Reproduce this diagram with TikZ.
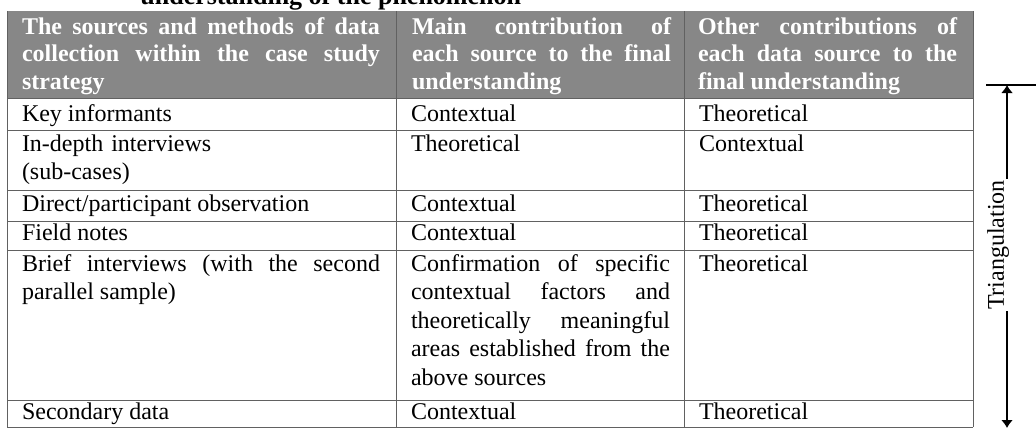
\documentclass[tikz,border=0pt]{standalone}
\usepackage{fontspec}
\setmainfont{Liberation Serif}
\usetikzlibrary{arrows.meta}
\hyphenpenalty=10000
\exhyphenpenalty=10000
\begin{document}
\begin{tikzpicture}[x=0.5pt,y=-0.5pt,
  gridline/.style={draw=black!62, line width=0.45pt},
  headband/.style={fill=black!47},
  cell/.style={anchor=base west, inner sep=0pt, outer sep=0pt, align=justify,
    font=\fontsize{12}{14.25}\selectfont},
  headcell/.style={cell, text=white, font=\fontsize{12}{13.75}\selectfont\bfseries},
  colone/.style={text width=179pt},
  coltwo/.style={text width=129.5pt},
  colthree/.style={text width=129.5pt},
  dimline/.style={line width=0.9pt, draw=black},
  dimtip/.style={{Latex[length=4pt,width=6pt]}-{Latex[length=4pt,width=6pt]}}
]
\useasboundingbox (0,0) rectangle (1036,428);

% caption running off the top edge
\node[anchor=base west, inner sep=0pt, font=\fontsize{13}{15}\selectfont\bfseries]
  (cap) at (140,4.5) {understanding of the phenomenon};

% shaded header band
\fill[headband] (7,11) rectangle (973,98);

% table rules
\foreach \yy in {98,130,190,221,250,400,427}
  \draw[gridline] (7,\yy) -- (973,\yy);
\foreach \xx in {7,396,684,973}
  \draw[gridline] (\xx,11) -- (\xx,427);

% header cells
\node[headcell, colone] (h1) at (22,34)
  {The sources and methods of data\linebreak collection within the case study\linebreak strategy};
\node[headcell, coltwo] (h2) at (412,34)
  {Main contribution of\linebreak each source to the final\linebreak understanding};
\node[headcell, colthree] (h3) at (698,34)
  {Other contributions of\linebreak each data source to the\linebreak final understanding};

% body rows
\node[cell, colone] (a1) at (22,121) {Key informants};
\node[cell, coltwo] (b1) at (411,121) {Contextual};
\node[cell, colthree] (c1) at (699,121) {Theoretical};

\node[cell, colone, align=left] (a2) at (22,151) {In-depth interviews\\(sub-cases)};
\node[cell, coltwo] (b2) at (411,151) {Theoretical};
\node[cell, colthree] (c2) at (699,151) {Contextual};

\node[cell, colone] (a3) at (22,211) {Direct/participant observation};
\node[cell, coltwo] (b3) at (411,211) {Contextual};
\node[cell, colthree] (c3) at (699,211) {Theoretical};

\node[cell, colone] (a4) at (22,240) {Field notes};
\node[cell, coltwo] (b4) at (411,240) {Contextual};
\node[cell, colthree] (c4) at (699,240) {Theoretical};

\node[cell, colone] (a5) at (22,271)
  {Brief interviews (with the second\linebreak parallel sample)};
\node[cell, coltwo] (b5) at (411,271)
  {Confirmation of specific\linebreak contextual factors and\linebreak theoretically meaningful\linebreak areas established from the\linebreak above sources};
\node[cell, colthree] (c5) at (699,271) {Theoretical};

\node[cell, colone] (a6) at (22,419) {Secondary data};
\node[cell, coltwo] (b6) at (411,419) {Contextual};
\node[cell, colthree] (c6) at (699,419) {Theoretical};

% triangulation span marker
\coordinate (ticka) at (986,85);
\coordinate (tickb) at (1036,85);
\coordinate (tritop) at (1007,85);
\coordinate (tribot) at (1007,428);
\draw[dimline] (ticka) -- (tickb);
\draw[dimline, dimtip] (tritop) -- (tribot);
\node[rotate=90, fill=white, inner sep=0.6pt, font=\fontsize{12}{14}\selectfont]
  (tri) at (998,245) {Triangulation};
\end{tikzpicture}
\end{document}
